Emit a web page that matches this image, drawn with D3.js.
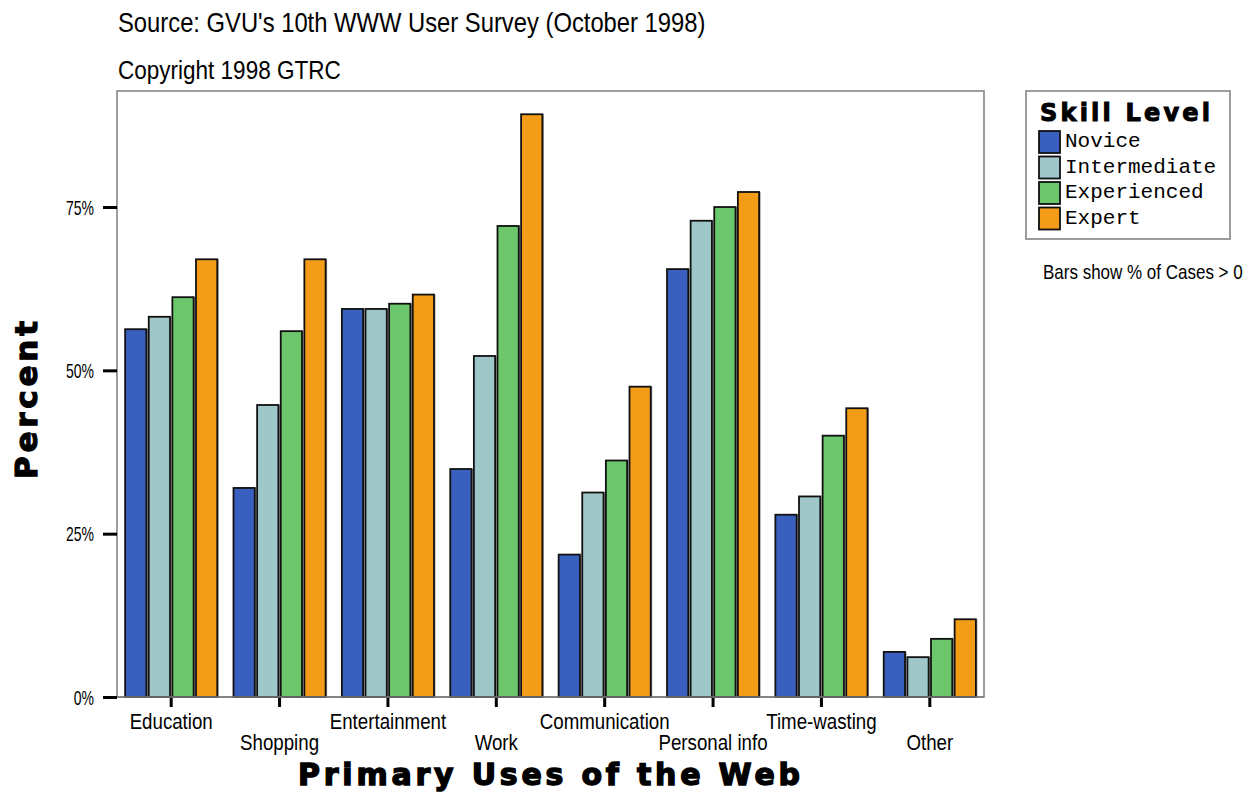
<!DOCTYPE html>
<html>
<head>
<meta charset="utf-8">
<script src="https://cdn.jsdelivr.net/npm/d3@7"></script>
<style>
body { margin: 0; background: #fff; }
svg { display: block; }
</style>
</head>
<body>
<svg></svg>
<script>
// values, % of cases
var categories = ["Education", "Shopping", "Entertainment", "Work", "Communication", "Personal info", "Time-wasting", "Other"];
var levels = ["Novice", "Intermediate", "Experienced", "Expert"];
var novice       = [56.3, 32.0, 59.4, 34.9, 21.8, 65.5, 27.9, 6.9];
var intermediate = [58.2, 44.7, 59.4, 52.2, 31.3, 72.9, 30.7, 6.1];
var experienced  = [61.2, 56.0, 60.2, 72.1, 36.2, 75.0, 40.0, 8.9];
var expert       = [67.0, 67.0, 61.6, 89.2, 47.5, 77.3, 44.2, 11.9];
var yTicks = [0, 25, 50, 75];
var colors = ["#3a60bf", "#9fc6c8", "#6cc76c", "#f29c18"];

var series = [novice, intermediate, experienced, expert];

var width = 1250;
var height = 792;
var plotLeft = 117, plotRight = 984, plotTop = 91, plotBottom = 697;

// the original uses a condensed face; squeeze Liberation Sans to match
var narrowFont = "'Liberation Sans', Arial, sans-serif";

function squeeze(k) {
  return function (sel) {
    sel.each(function () {
      var t = d3.select(this);
      var x = +t.attr("x") || 0, y = +t.attr("y") || 0;
      t.attr("transform", "translate(" + x + "," + y + ") scale(" + k + ",1) translate(" + (-x) + "," + (-y) + ")");
    });
  };
}

var svg = d3.select("svg")
  .attr("width", width)
  .attr("height", height);

var x0 = d3.scaleBand()
  .domain(categories)
  .range([plotLeft, plotRight])
  .paddingInner(0.15)
  .paddingOuter(0.075);

var x1 = d3.scaleBand()
  .domain(levels)
  .range([0, x0.bandwidth()])
  .paddingInner(0.1);

var y = d3.scaleLinear()
  .domain([0, 92.76])
  .range([plotBottom, plotTop]);

// headings
svg.append("text")
  .attr("x", 118).attr("y", 32)
  .attr("font-family", narrowFont).attr("font-size", 28)
  .text("Source: GVU's 10th WWW User Survey (October 1998)")
  .call(squeeze(0.85));

svg.append("text")
  .attr("x", 118).attr("y", 79)
  .attr("font-family", narrowFont).attr("font-size", 26.5)
  .text("Copyright 1998 GTRC")
  .call(squeeze(0.85));

// plot frame
svg.append("rect")
  .attr("x", plotLeft).attr("y", plotTop)
  .attr("width", plotRight - plotLeft).attr("height", plotBottom - plotTop)
  .attr("fill", "#fff")
  .attr("stroke", "#7d7d7d")
  .attr("stroke-width", 1.5);

// bars
var groups = svg.append("g")
  .selectAll("g")
  .data(categories).enter()
  .append("g")
  .attr("transform", function (d) { return "translate(" + x0(d) + ",0)"; });

var bars = groups.selectAll("g.bar")
  .data(function (d, i) {
    return levels.map(function (l, j) { return { level: l, value: series[j][i], color: colors[j] }; });
  })
  .enter().append("g").attr("class", "bar");

bars.append("rect")
  .attr("x", function (d) { return x1(d.level) + 1.5; })
  .attr("y", function (d) { return y(d.value); })
  .attr("width", x1.bandwidth())
  .attr("height", function (d) { return plotBottom - y(d.value); })
  .attr("fill", "#9a9a9a");

bars.append("rect")
  .attr("x", function (d) { return x1(d.level); })
  .attr("y", function (d) { return y(d.value); })
  .attr("width", x1.bandwidth())
  .attr("height", function (d) { return plotBottom - y(d.value); })
  .attr("fill", function (d) { return d.color; })
  .attr("stroke", "#111")
  .attr("stroke-width", 1.8);

// y axis
var yAxis = svg.append("g")
  .attr("transform", "translate(" + plotLeft + ",0)")
  .call(d3.axisLeft(y).tickValues(yTicks).tickSize(14).tickPadding(9)
    .tickFormat(function (d) { return d + "%"; }));
yAxis.select(".domain").remove();
yAxis.selectAll(".tick line").attr("stroke", "#000").attr("stroke-width", 3);
yAxis.selectAll(".tick text")
  .attr("font-family", narrowFont).attr("font-size", 20).attr("fill", "#000")
  .attr("dy", "0.36em")
  .call(squeeze(0.7));

// x axis
var xAxis = svg.append("g")
  .attr("transform", "translate(0," + plotBottom + ")")
  .call(d3.axisBottom(x0).tickSize(10).tickPadding(6));
xAxis.select(".domain").remove();
xAxis.selectAll(".tick line").attr("stroke", "#000").attr("stroke-width", 3);
xAxis.selectAll(".tick text")
  .attr("font-family", narrowFont).attr("font-size", 22).attr("fill", "#000")
  .attr("y", function (d, i) { return i % 2 ? 37 : 16; })
  .attr("dy", "0.71em")
  .call(squeeze(0.85));

// frame bottom edge over the bar feet
svg.append("line")
  .attr("x1", plotLeft).attr("x2", plotRight)
  .attr("y1", plotBottom).attr("y2", plotBottom)
  .attr("stroke", "#7d7d7d").attr("stroke-width", 1.5);

// axis titles (heavy face, thickened with a stroke)
svg.append("text")
  .attr("transform", "translate(37," + ((plotTop + plotBottom) / 2 + 6) + ") rotate(-90)")
  .attr("text-anchor", "middle")
  .attr("font-family", "'DejaVu Sans', sans-serif").attr("font-weight", "bold")
  .attr("font-size", 31)
  .attr("stroke", "#000").attr("stroke-width", 1.2)
  .attr("textLength", 158)
  .text("Percent");

svg.append("text")
  .attr("x", 549).attr("y", 785)
  .attr("text-anchor", "middle")
  .attr("font-family", "'DejaVu Sans', sans-serif").attr("font-weight", "bold")
  .attr("font-size", 30)
  .attr("stroke", "#000").attr("stroke-width", 1.4)
  .attr("textLength", 502)
  .text("Primary Uses of the Web");

// legend
var legend = svg.append("g").attr("transform", "translate(1026,91)");
legend.append("rect")
  .attr("width", 204).attr("height", 148)
  .attr("fill", "#fff").attr("stroke", "#7d7d7d").attr("stroke-width", 1.5);
legend.append("text")
  .attr("x", 14).attr("y", 30)
  .attr("font-family", "'DejaVu Sans', sans-serif").attr("font-weight", "bold")
  .attr("font-size", 24)
  .attr("stroke", "#000").attr("stroke-width", 1)
  .attr("textLength", 170)
  .text("Skill Level");

var items = legend.selectAll("g.item")
  .data(levels).enter()
  .append("g").attr("class", "item")
  .attr("transform", function (d, i) { return "translate(13," + (40 + i * 25.5) + ")"; });
items.append("rect")
  .attr("width", 21).attr("height", 22)
  .attr("fill", function (d, i) { return colors[i]; })
  .attr("stroke", "#111").attr("stroke-width", 1.8);
items.append("text")
  .attr("x", 26).attr("y", 16)
  .attr("font-family", "'Liberation Mono', 'Courier New', monospace")
  .attr("font-size", 21)
  .text(function (d) { return d; });

svg.append("text")
  .attr("x", 1043).attr("y", 279)
  .attr("font-family", narrowFont).attr("font-size", 20)
  .text("Bars show % of Cases > 0")
  .call(squeeze(0.85));
</script>
</body>
</html>
